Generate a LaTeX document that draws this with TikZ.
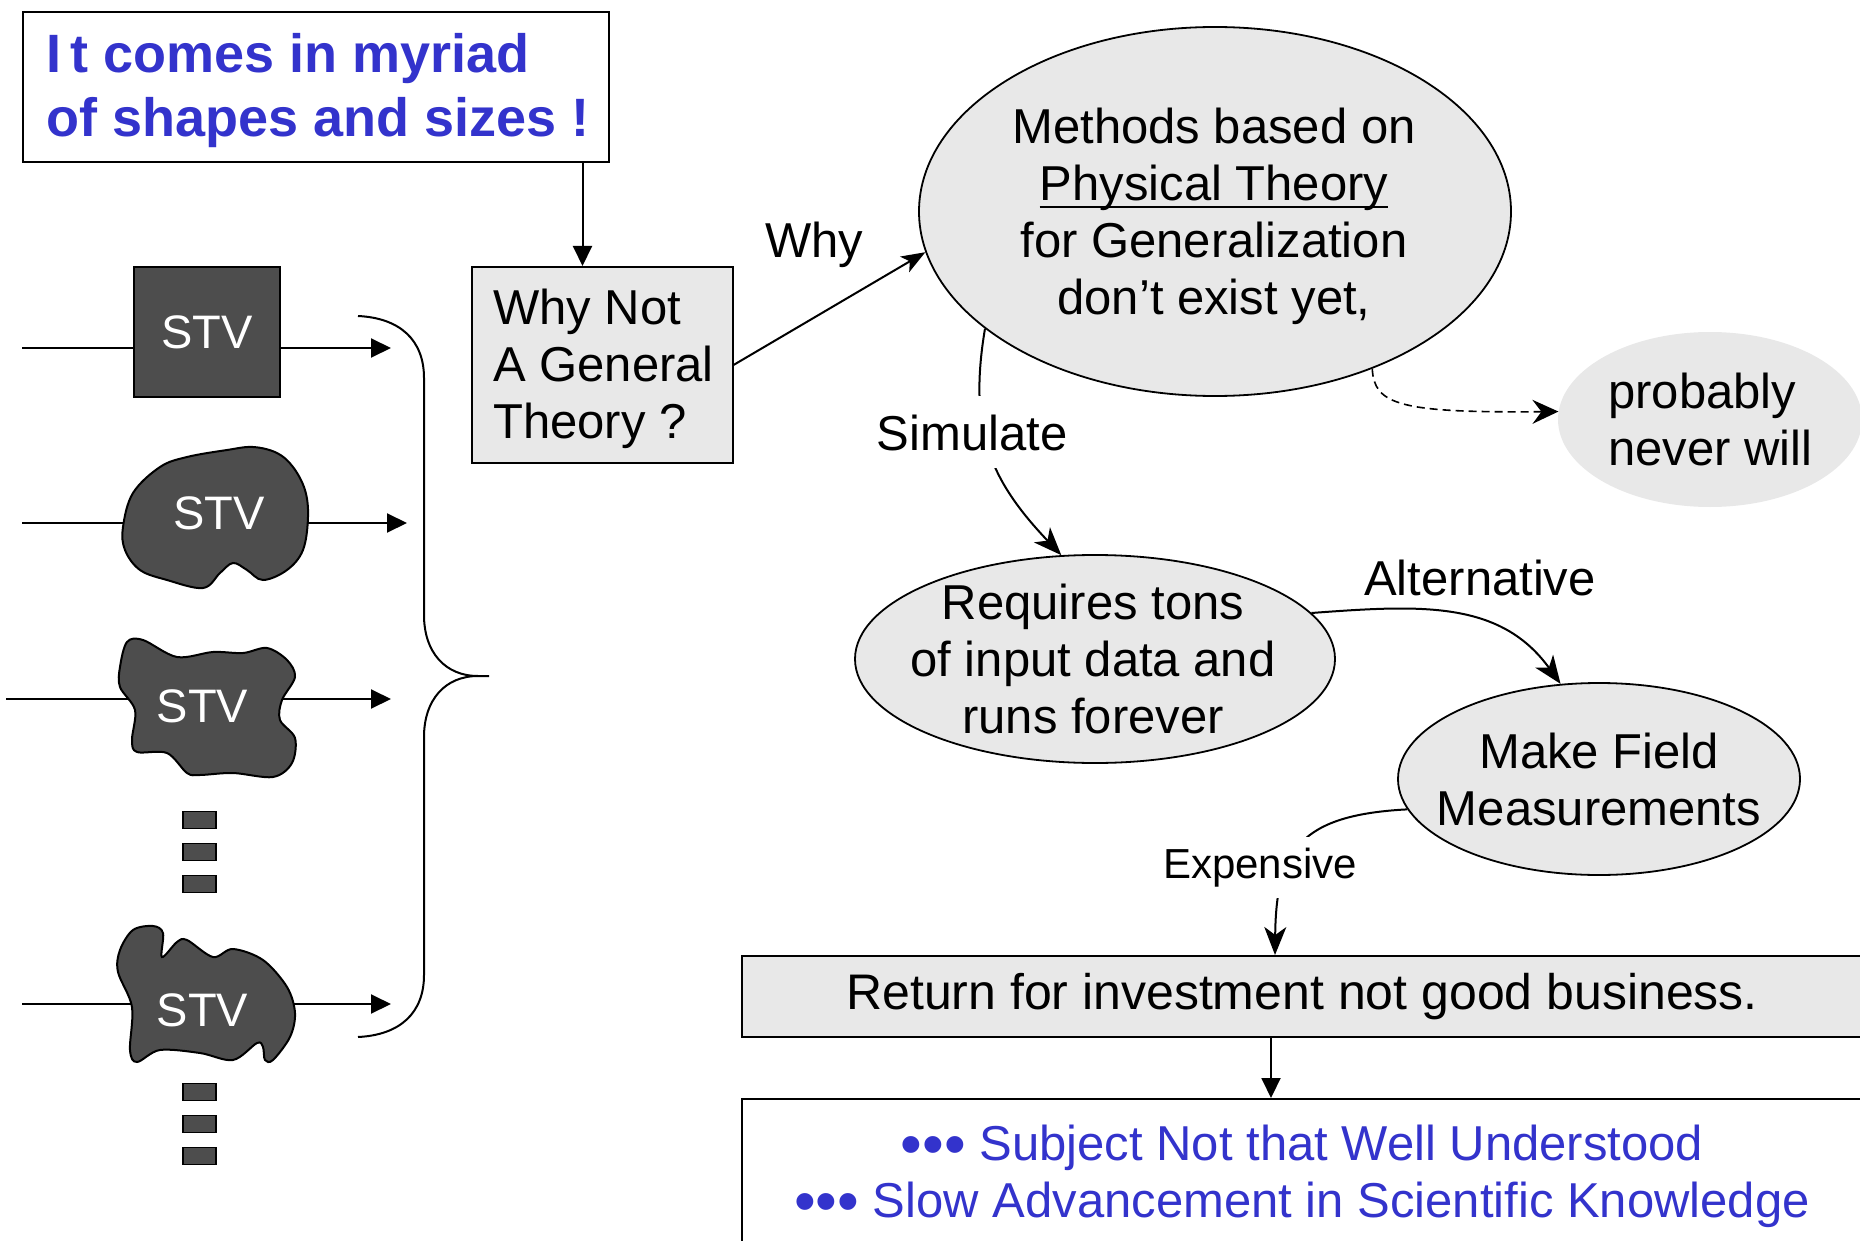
\documentclass[tikz,border=0pt]{standalone}
\usepackage{fontspec}
\setmainfont{Liberation Sans}
\usetikzlibrary{arrows.meta,shapes.geometric,calc}
\definecolor{darkfill}{HTML}{4D4D4D}
\definecolor{lightfill}{HTML}{E8E8E8}
\definecolor{txtblue}{HTML}{3333CC}
% underline that runs through the descenders
\newcommand\ulin[1]{\setbox0\hbox{#1}\rlap{\rule[-8pt]{\wd0}{2.5pt}}#1}
\newcommand\bigdots{{\fontsize{62}{57}\selectfont\raisebox{-5pt}{•••}}}
\begin{document}
\begin{tikzpicture}[x=1pt,y=-1pt,
  every node/.style={font=\fontsize{49}{57}\selectfont, inner sep=0pt},
  line/.style={line width=2pt},
  tri/.style={-{Triangle[length=20pt,width=19pt]}},
  stl/.style={-{Stealth[length=28pt,width=22pt,inset=8pt]}},
  boxed/.style={draw, line width=2pt, rectangle},
  bubble/.style={ellipse, draw, fill=lightfill, line width=1.8pt},
  stvtext/.style={text=white, font=\fontsize{47}{47}\selectfont},
  blob/.style={draw=black, line width=2pt, fill=darkfill},
  ellip/.style={draw=darkfill, fill=darkfill, line width=1.5pt, draw=black,
    minimum width=33pt, minimum height=17pt},
  lbl/.style={fill=white, inner xsep=4pt}
]
\useasboundingbox (0,0) rectangle (1860,1241);
\clip (0,0) rectangle (1860,1241);

% ---------- top left note ----------
% (multi-line nodes are placed by the baseline of their last line)
\node[boxed, minimum width=586pt, minimum height=150pt] (myriadbox) at (315.5,87) {};
\node[anchor=base west, align=left, text=txtblue,
      font=\bfseries\fontsize{54}{64}\selectfont] (myriad) at (46,137)
  {I\kern9pt t comes in myriad\\of shapes and sizes !};

% ---------- question box ----------
\node[boxed, fill=lightfill, minimum width=261pt, minimum height=196pt] (whynotbox) at (602,365) {};
\node[anchor=base west, align=left] (whynot) at (493,438) {Why Not\\A General\\Theory ?};
\draw[line, tri] ([xshift=-27pt]myriadbox.south east) -- ([xshift=-27pt]myriadbox.south east |- whynotbox.north);

% ---------- STV shapes ----------
\coordinate (in1) at (22,348);  \coordinate (out1) at (391,348);
\coordinate (in2) at (22,523);  \coordinate (out2) at (407,523);
\coordinate (in3) at (6,699);   \coordinate (out3) at (391,699);
\coordinate (in4) at (22,1004); \coordinate (out4) at (391,1004);

\node[boxed, fill=darkfill, minimum width=146pt, minimum height=129pt, stvtext] (stv1) at (207,332) {STV};
\draw[line] (in1) -- (in1 -| stv1.west);
\draw[line, tri] (stv1.east |- out1) -- (out1);

% rounded blob
\coordinate (stv2) at (219,513.5);
\draw[line] (in2) -- (in2 -| stv2);
\draw[line, tri] (out2 -| stv2) -- (out2);
\path[blob] plot[smooth cycle, tension=0.6] coordinates {
  (160,467) (187,457) (227,450) (253,447) (277,453) (293,467) (305,490)
  (308,517) (303,550) (287,570) (263,580) (247,570) (233,563) (220,573)
  (203,588) (167,580) (140,570) (125,550) (123,527) (133,493)};
\node[stvtext] (stv2t) at (stv2) {STV};

% wavy blob
\coordinate (stv3) at (202.5,706);
\draw[line] (in3) -- (in3 -| stv3);
\draw[line, tri] (out3 -| stv3) -- (out3);
\path[blob] plot[smooth cycle, tension=0.55] coordinates {
  (127,642) (143,640) (177,657) (213,652) (243,653) (267,648) (287,660)
  (295,677) (282,700) (280,720) (295,738) (292,763) (273,777) (233,773)
  (200,775) (187,773) (167,753) (137,752) (132,740) (135,710) (120,687)
  (120,667)};
\node[stvtext] (stv3t) at (stv3) {STV};

% lobed blob
\coordinate (stv4) at (202.5,1010);
\draw[line] (in4) -- (in4 -| stv4);
\draw[line, tri] (out4 -| stv4) -- (out4);
\path[blob] plot[smooth cycle, tension=0.55] coordinates {
  (133,930) (153,926) (163,933) (162,957) (177,942) (187,940) (213,957)
  (233,949) (263,960) (287,987) (295,1013) (290,1037) (273,1060) (265,1060)
  (263,1047) (257,1043) (233,1060) (200,1053) (160,1050) (137,1062)
  (130,1050) (132,1007) (118,972) (120,950)};
\node[stvtext] (stv4t) at (stv4) {STV};

% continuation marks
\foreach \yy [count=\i] in {820,852,884} {\node[ellip] (gapA\i) at (199.5,\yy) {};}
\foreach \yy [count=\i] in {1092,1124,1156} {\node[ellip] (gapB\i) at (199.5,\yy) {};}

% brace
\draw[line] (358,316) .. controls (400,318) and (424,340) .. (424,378)
  -- (424,615) .. controls (424,652) and (445,676) .. (478,676) -- (489,676)
  -- (478,676) .. controls (445,676) and (424,700) .. (424,737)
  -- (424,975) .. controls (424,1013) and (400,1035) .. (358,1037);

% ---------- theory bubble ----------
\node[bubble, minimum width=592pt, minimum height=369pt] (bigell) at (1215,211.5) {};
\node[anchor=base, align=center] (methods) at (1214,314)
  {Methods based on\\\ulin{Physical Theory}\\for Generalization\\don’t exist yet,};
\node[anchor=base] (whylbl) at (814,258) {Why};
\draw[line, -{Stealth[length=24pt,width=18pt,inset=6pt]}] (whynotbox.east) -- (bigell.188);

% ---------- never ----------
\node[ellipse, fill=lightfill, minimum width=304pt, minimum height=175pt] (prob) at (1710,419.5) {};
\node[anchor=base west, align=left] (probtxt) at (1608,465) {probably\\never will};
\draw[line width=1.6pt, dash pattern=on 8pt off 5pt,
      -{Stealth[length=26pt,width=24pt,inset=9pt]}]
  (bigell.-45) .. controls (1374,405) and (1400,413) .. (prob.177);

% ---------- simulation ----------
\node[bubble, minimum width=480pt, minimum height=208pt] (req) at (1095,659) {};
\node[anchor=base, align=center] (reqtxt) at (1093,733) {Requires tons\\of input data and\\runs forever};
\draw[line, stl] (bigell.207) .. controls (968,430) and (990,480) .. (req.108);
\node[lbl, inner ysep=18pt, anchor=base] (simlbl) at (972,450) {Simulate};

% ---------- field measurements ----------
\node[bubble, minimum width=402pt, minimum height=192pt] (field) at (1599,779) {};
\node[anchor=base, align=center] (fieldtxt) at (1599,825) {Make Field\\Measurements};
\draw[line, stl] (req.12) .. controls (1420,605) and (1500,600) .. (field.112);
\node[anchor=base] (altlbl) at (1480,595) {Alternative};

% ---------- outcome ----------
\node[boxed, fill=lightfill, minimum width=1120pt, minimum height=81pt,
      font=\fontsize{50}{60}\selectfont] (ret) at (1302,996.5) {Return for investment not good business.};
\draw[line, stl] (field.189) .. controls (1300,815) and (1276,850) .. ([xshift=-27pt]ret.north);
\node[lbl, inner ysep=11pt, anchor=base, font=\fontsize{42}{50}\selectfont] (explbl) at (1260,878) {Expensive};

\node[boxed, fill=white, minimum width=1120pt, minimum height=200pt] (concl) at (1302,1199) {};
\draw[line, tri] ([xshift=-31pt]ret.south) -- ([xshift=-31pt]ret.south |- concl.north);
\node[anchor=base, align=center, text=txtblue] (concltxt) at (1302,1217)
  {\bigdots\ Subject Not that Well Understood\\\bigdots\ Slow Advancement in Scientific Knowledge};
\end{tikzpicture}
\end{document}
